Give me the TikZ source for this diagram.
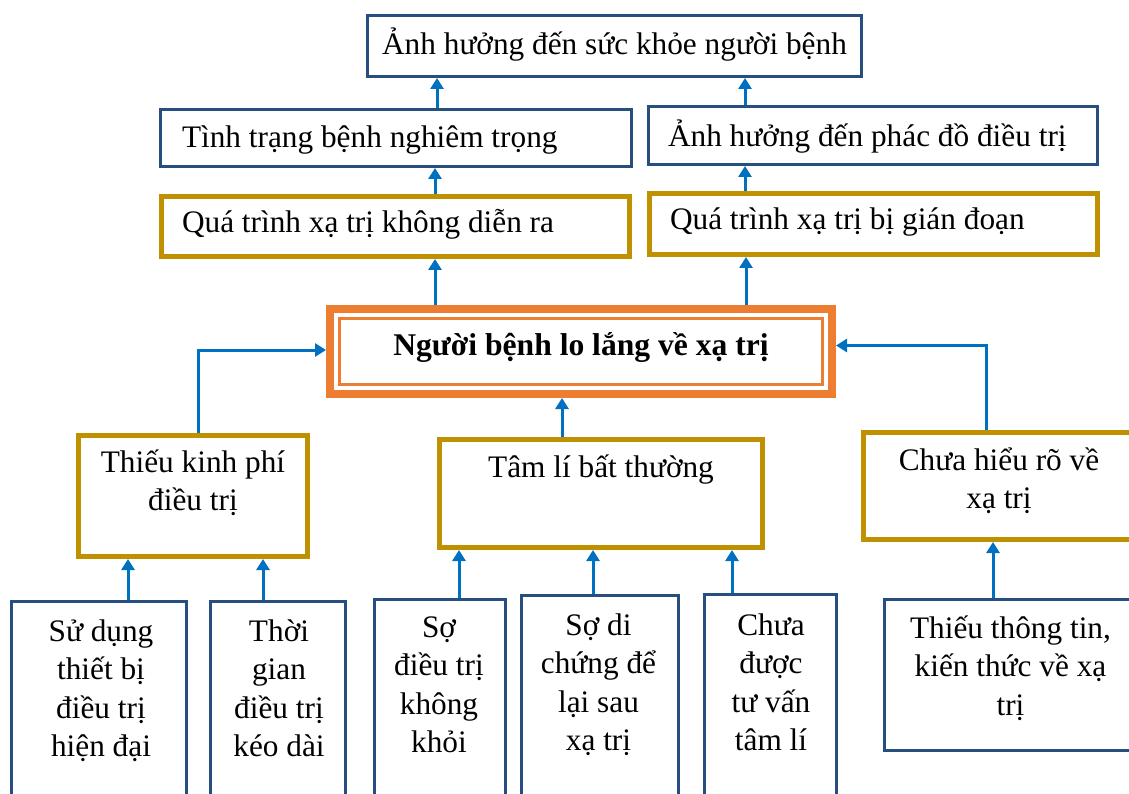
\documentclass[tikz,border=0pt]{standalone}
\usepackage{fontspec}
\setmainfont{Liberation Serif}
\usetikzlibrary{arrows.meta}
\definecolor{boxblue}{HTML}{264F80}
\definecolor{boxgold}{HTML}{BF9000}
\definecolor{mainorange}{HTML}{ED7D31}
\definecolor{arrowblue}{HTML}{0070C0}
% strut that fixes the top of the first line of a multi-line label
\newcommand{\firstline}{\rule{0pt}{32pt}}

\begin{document}
\begin{tikzpicture}[x=1pt,y=-1pt,
  every node/.style={font=\fontsize{31.3}{38.5}\selectfont},
  bluebox/.style={draw=boxblue, line width=3pt, fill=white, inner sep=0pt},
  goldbox/.style={draw=boxgold, line width=5pt, fill=white, inner sep=0pt},
  txt/.style={inner sep=0pt, outer sep=0pt, text=black},
  lines/.style={txt, align=center, anchor=north},
  arr/.style={draw=arrowblue, line width=3pt, -{Triangle[width=13pt,length=11pt]}},
]
\useasboundingbox (0,0) rectangle (1129,794);
\clip (0,0) rectangle (1129,794);
\fill[white] (0,0) rectangle (1129,794);

% ---- consequences (top rows)
\node[bluebox, minimum width=494pt, minimum height=61pt] (top) at (614.5,46) {};
\node[bluebox, minimum width=471pt, minimum height=57pt] (sev) at (396,138) {};
\node[bluebox, minimum width=449pt, minimum height=58pt] (reg) at (873,135.5) {};
\node[goldbox, minimum width=468pt, minimum height=60pt] (none) at (395.5,226.5) {};
\node[goldbox, minimum width=448pt, minimum height=61pt] (intr) at (873.5,224) {};

\node[txt, anchor=base] (topt) at (614.5,55) {Ảnh hưởng đến sức khỏe người bệnh};
\node[txt, anchor=base west] (sevt) at (182,148) {Tình trạng bệnh nghiêm trọng};
\node[txt, anchor=base west] (regt) at (668,147) {Ảnh hưởng đến phác đồ điều trị};
\node[txt, anchor=base west] (nonet) at (182,233) {Quá trình xạ trị không diễn ra};
\node[txt, anchor=base west] (intrt) at (670,230) {Quá trình xạ trị bị gián đoạn};

% ---- central problem
\node[draw=mainorange, line width=8pt, fill=white, inner sep=0pt,
      minimum width=502pt, minimum height=85pt] (main) at (581,351.5) {};
\draw[mainorange, line width=3pt]
  ([shift={(13.5,13.5)}]main.north west) rectangle ([shift={(-13.5,-13.5)}]main.south east);
\node[txt, anchor=base, font=\fontsize{31.6}{38.5}\selectfont\bfseries] (maint) at (581,355)
  {Người bệnh lo lắng về xạ trị};

% ---- direct causes
\node[goldbox, minimum width=229pt, minimum height=121pt] (fund) at (193,496) {};
\node[goldbox, minimum width=323pt, minimum height=108pt] (psy) at (601,493.5) {};
\node[goldbox, minimum width=269pt, minimum height=107pt] (know) at (998,486) {};

\node[lines] (fundt) at (193,440) {\firstline Thiếu kinh phí\\điều trị};
\node[txt, anchor=base] (psyt) at (601,477) {Tâm lí bất thường};
\node[lines] (knowt) at (999,438) {\firstline Chưa hiểu rõ về\\xạ trị};

% ---- root causes
\node[bluebox, minimum width=175pt, minimum height=207pt] (equip) at (99,705) {};
\node[bluebox, minimum width=135pt, minimum height=207pt] (time) at (278,705) {};
\node[bluebox, minimum width=131pt, minimum height=209pt] (fear) at (440,704) {};
\node[bluebox, minimum width=157pt, minimum height=213pt] (seq) at (600,702) {};
\node[bluebox, minimum width=132pt, minimum height=214pt] (coun) at (770.5,701.5) {};
\node[bluebox, minimum width=257pt, minimum height=151pt] (info) at (1013,675) {};

\node[lines] (equipt) at (101,609) {\firstline Sử dụng\\thiết bị\\điều trị\\hiện đại};
\node[lines] (timet) at (279,609) {\firstline Thời\\gian\\điều trị\\kéo dài};
\node[lines] (feart) at (439,605) {\firstline Sợ\\điều trị\\không\\khỏi};
\node[lines] (seqt) at (598.5,603) {\firstline Sợ di\\chứng để\\lại sau\\xạ trị};
\node[lines] (count) at (771,603) {\firstline Chưa\\được\\tư vấn\\tâm lí};
\node[lines] (infot) at (1010.5,606) {\firstline Thiếu thông tin,\\kiến thức về xạ\\trị};

% ---- connectors
\draw[arr] ([xshift=29pt]equip.north) -- ([xshift=-65pt]fund.south);
\draw[arr] ([xshift=-15pt]time.north) -- ([xshift=70pt]fund.south);
\draw[arr] ([xshift=19pt]fear.north) -- ([xshift=-142pt]psy.south);
\draw[arr] ([xshift=-7pt]seq.north) -- ([xshift=-8pt]psy.south);
\draw[arr] ([xshift=-38.5pt]coun.north) -- ([xshift=131pt]psy.south);
\draw[arr] ([xshift=-20pt]info.north) -- ([xshift=-5pt]know.south);

\draw[arr] ([xshift=5pt]fund.north) |- ([yshift=1.5pt]main.west);
\draw[arr] ([xshift=-12pt]know.north) |- ([yshift=6pt]main.east);
\draw[arr] ([xshift=-39pt]psy.north) -- ([xshift=-19pt]main.south);

\draw[arr] ([xshift=-146pt]main.north) -- ([xshift=39.5pt]none.south);
\draw[arr] ([xshift=165pt]main.north) -- ([xshift=-127.5pt]intr.south);
\draw[arr] ([xshift=39.5pt]none.north) -- ([xshift=39pt]sev.south);
\draw[arr] ([xshift=-128.5pt]intr.north) -- ([xshift=-128pt]reg.south);
\draw[arr] ([xshift=41pt]sev.north) -- ([xshift=-177.5pt]top.south);
\draw[arr] ([xshift=-128pt]reg.north) -- ([xshift=130.5pt]top.south);
\end{tikzpicture}
\end{document}
